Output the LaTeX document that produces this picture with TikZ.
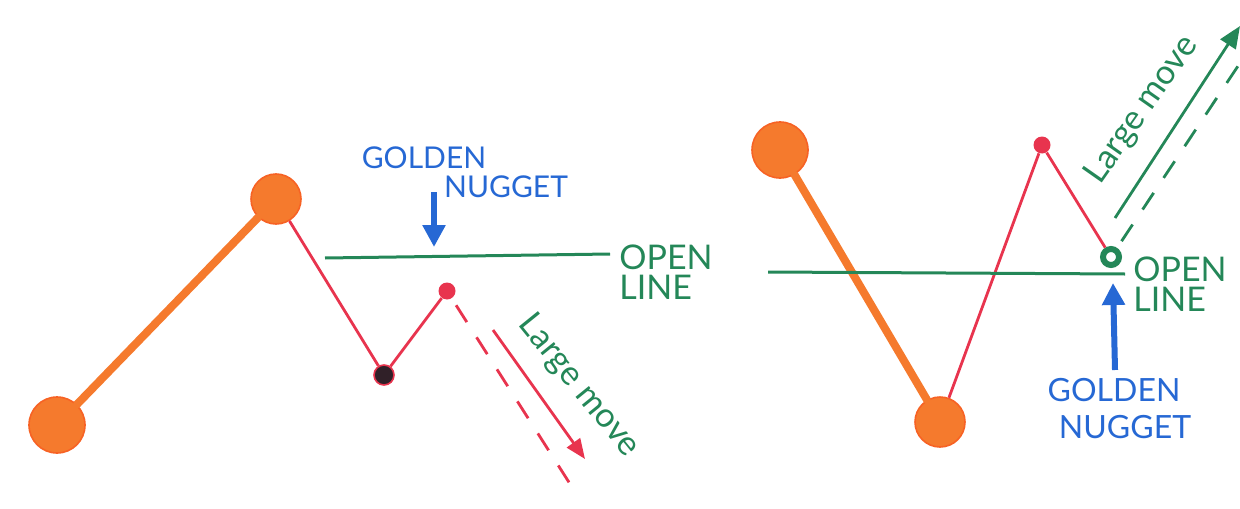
\documentclass[tikz,border=0pt]{standalone}
\usepackage{fontspec}
\setmainfont{Lato}
\usetikzlibrary{arrows.meta}
\definecolor{penorange}{RGB}{245,122,45}
\definecolor{penred}{RGB}{232,52,78}
\definecolor{pengreen}{RGB}{36,135,88}
\definecolor{penblue}{RGB}{38,104,212}
\definecolor{penblack}{RGB}{48,32,40}
\begin{document}
\begin{tikzpicture}[x=0.5pt,y=-0.5pt,
	bigdot/.style={circle,fill=penorange,draw=penorange!80!red,line width=0.8pt,inner sep=0pt},
	reddot/.style={circle,fill=penred,minimum size=8.5pt,inner sep=0pt},
	thickline/.style={penorange,line width=4pt,line cap=round},
	thinline/.style={penred,line width=1.4pt},
	openline/.style={pengreen,line width=1.5pt},
	nuggetarrow/.style={penblue,line width=3pt,-{Triangle[length=11pt,width=11pt]}},
	penlabel/.style={inner sep=0pt,font=\fontsize{15}{15}\selectfont}]
	\useasboundingbox (0,0) rectangle (1240,508);
	% left: market falls back under the open line
	\node [bigdot,minimum size=28pt] (lowL) at (57,425) {};
	\node [bigdot,minimum size=25pt] (highL) at (276,199) {};
	\node [circle,fill=penblack,draw=penred,line width=0.8pt,minimum size=10pt,inner sep=0pt] (dipL) at (384,375) {};
	\node [reddot] (popL) at (447,291) {};
	\draw [thickline] (lowL) -- (highL);
	\draw [thinline] (highL) -- (dipL) -- (popL);
	\coordinate (dashL) at (572,487);
	\draw [penred,line width=1.4pt,dash pattern=on 10pt off 9pt,shorten <=4pt] (popL) -- (dashL);
	\coordinate (moveLa) at (493,330);
	\coordinate (moveLb) at (585,459);
	\draw [penred,line width=1.4pt,-{Triangle[length=10pt,width=8pt]}] (moveLa) -- (moveLb);
	\node [penlabel,text=pengreen,rotate=-51,font=\fontsize{17}{17}\selectfont] (largeL) at (579,386) {Large move};
	\coordinate (openLa) at (325,258);
	\coordinate (openLb) at (610,254);
	\draw [openline] (openLa) -- (openLb);
	\node [penlabel,text=pengreen,align=left,font=\fontsize{17}{15}\selectfont] (openL) at (666,272) {OPEN\\LINE};
	\node [penlabel,text=penblue] (goldenL) at (424,158) {GOLDEN};
	\node [penlabel,text=penblue] (nuggetL) at (506,187) {NUGGET};
	\coordinate (arrowLa) at (434,192);
	\coordinate (arrowLb) at (434,247);
	\draw [nuggetarrow] (arrowLa) -- (arrowLb);
	% right: market breaks up through the open line
	\node [bigdot,minimum size=28pt] (highR) at (780,150) {};
	\node [bigdot,minimum size=25pt] (lowR) at (940,422) {};
	\node [reddot] (peakR) at (1042,145) {};
	\node [circle,fill=white,draw=pengreen,line width=3pt,minimum size=8pt,inner sep=0pt] (entryR) at (1111,257) {};
	\draw [thickline] (highR) -- (lowR);
	\draw [thinline] (lowR) -- (peakR) -- (entryR);
	\coordinate (openRa) at (768,272);
	\coordinate (openRb) at (1125,274);
	\draw [openline] (openRa) -- (openRb);
	\node [penlabel,text=pengreen,align=left,font=\fontsize{17}{15}\selectfont] (openR) at (1180,284) {OPEN\\LINE};
	\coordinate (dashR) at (1242,60);
	\draw [pengreen,line width=1.4pt,dash pattern=on 10pt off 9pt,shorten <=4pt] (entryR) -- (dashR);
	\coordinate (moveRa) at (1115,218);
	\coordinate (moveRb) at (1240,26);
	\draw [pengreen,line width=1.4pt,-{Triangle[length=11pt,width=9pt]}] (moveRa) -- (moveRb);
	\node [penlabel,text=pengreen,rotate=55,font=\fontsize{17}{17}\selectfont] (largeR) at (1142,110) {Large move};
	\coordinate (arrowRa) at (1115,370);
	\coordinate (arrowRb) at (1113,283);
	\draw [nuggetarrow] (arrowRa) -- (arrowRb);
	\node [penlabel,text=penblue,font=\fontsize{16}{16}\selectfont] (goldenR) at (1114,390) {GOLDEN};
	\node [penlabel,text=penblue,font=\fontsize{16}{16}\selectfont] (nuggetR) at (1125,427) {NUGGET};
\end{tikzpicture}
\end{document}
